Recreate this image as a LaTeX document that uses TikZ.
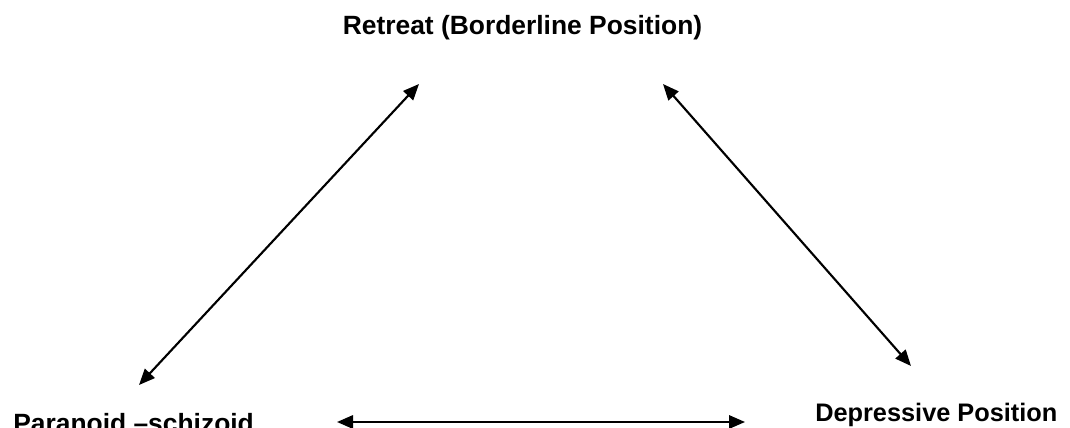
\documentclass[tikz,border=0pt]{standalone}
\usepackage{fontspec}
\setmainfont{Liberation Sans}
\usetikzlibrary{arrows.meta}
\begin{document}
\begin{tikzpicture}[x=0.75pt,y=0.75pt,
    position/.style={font=\bfseries\fontsize{19.8}{24}\selectfont, inner sep=0pt},
    link/.style={{Triangle[length=12pt,width=10pt]}-{Triangle[length=12pt,width=10pt]}, line width=1.6pt}]
      \useasboundingbox (0,0) rectangle (1070,428);
      \draw
        (522.5,393) node[position, anchor=base] (retreat){Retreat (Borderline Position)}
        (13,-4) node[position, anchor=base west] (paranoid){Paranoid –schizoid}
        (815,7) node[position, anchor=base west, font=\bfseries\fontsize{19}{24}\selectfont] (depressive){Depressive Position};
      \coordinate (rt1) at (419,344);
      \coordinate (pa1) at (139,43);
      \coordinate (rt2) at (663,344);
      \coordinate (de1) at (911,62);
      \coordinate (pa2) at (337,6);
      \coordinate (de2) at (745,6);
      \begin{scope}[link]
        \draw (rt1) to (pa1);
        \draw (rt2) to (de1);
        \draw (pa2) to (de2);
      \end{scope}
    \end{tikzpicture}
\end{document}
